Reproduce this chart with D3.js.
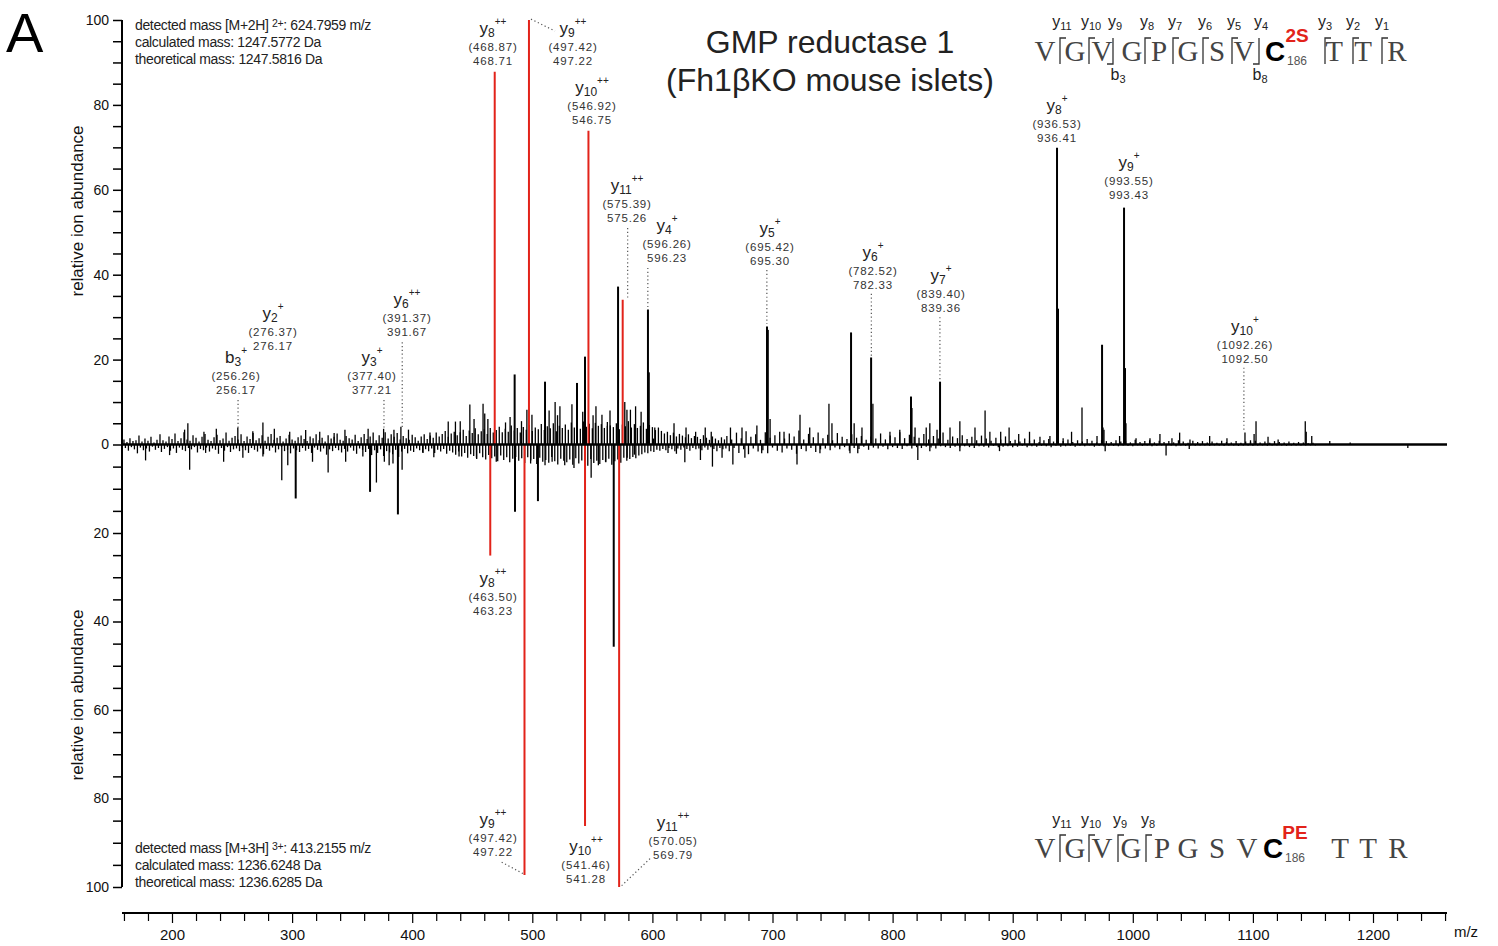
<!DOCTYPE html>
<html>
<head>
<meta charset="utf-8">
<script src="https://cdn.jsdelivr.net/npm/d3@7"></script>
<style>
  body { margin: 0; background: #fff; }
  text { font-family: "Liberation Sans", Arial, sans-serif; }
  text.seq { font-family: "Liberation Serif", "Times New Roman", serif; }
</style>
</head>
<body>
<svg id="chart" width="1498" height="946"></svg>
<script>
// ---- data ----
// labelled / prominent peaks, [m/z, relative abundance %]
var peaksTop = [
  [210.5,3.5],[213.2,5.0],[226.6,3.0],[236.9,3.7],[254.8,4.0],[267.3,3.1],[275.7,5.2],[285.2,3.7],
  [298,3.0],[311.3,3.4],[323,3.0],[335,2.7],[344,3.5],[363.3,3.7],[376.2,3.7],[384.8,3.5],
  [390.6,4.2],[396.9,3.5],[414.8,2.8],[430,5.4],[436,5.4],[440,5.5],[448,9.4],[451.5,6.0],
  [459,9.6],[460.4,7.3],[463,6.0],[477.7,5.2],[481.5,6.5],[485.3,16.5],[491,5.5],[495.5,8.2],
  [499.7,7.0],[510.6,14.8],[514,8.0],[519,10.0],[521,6.9],[523,9.0],[533,9.5],[537.2,14.5],
  [542,7.7],[543.9,20.7],[550.6,6.9],[553,9.0],[558,7.0],[562.5,4.4],[564.7,8.0],[571.4,37.2],
  [577,10.0],[578.8,8.2],[581.7,8.2],[586,9.0],[590.6,7.7],[596.3,31.8],[597,17],[601,1.4],[602,4.0],
  [618,5],[628,4],[636,3],[644,4],[649,3],[665,4],[674.6,4],[687,4.5],[695.4,27.8],[696.1,27],
  [698,6],[709.6,3],[722.9,7],[731,4],[747,9.6],[749.5,5],[765.4,26.4],[768,5],[774.5,4],
  [782.1,20.5],[783.6,9.6],[797.8,3],[806,3.5],[815.3,11.3],[816.1,8.6],[818.7,4],[828,4],[831,5],
  [837,3.5],[839.5,14.8],[847.8,4],[856,5.5],[868.6,4],[877,8],[881,3],
  [890,3],[897,4],[905,2.5],[914,3],[922.7,1.8],[931,2],[936.9,69.9],[937.7,32],[942,1.5],[949,3],
  [957.7,8.7],[970.2,2],[974.4,23.5],[975.2,4],[976,3.5],[989,2],[992.7,55.8],[993.5,18],[994.3,5],
  [1002.7,1.5],[1014.3,1.5],[1022.6,2.5],[1032.6,1.5],[1039,2.8],[1047.6,1.2],[1064,2],[1078.4,1.5],
  [1093.4,2.8],[1098,1],[1101,2.5],[1102.6,5.5],[1112.6,1.8],[1121,1.2],[1143.6,5.5],[1144.4,3],
  [1149,2],[1164,0.8],[1181,0.5]
];
var peaksBottom = [
  [178,3.6],[198,2.4],[214.7,5.7],[228,1.9],[243,3.9],[259,3.0],[275.7,2.7],[291.4,8.1],[296.4,4.7],
  [303,12.2],[317,3.9],[330,6.3],[344.6,3.9],[358.9,2.7],[364.9,10.7],[370.2,8.6],[376.8,3.9],
  [380.8,4.7],[384,4.3],[388.1,15.8],[391.6,5.7],[409,1.9],[418,2.9],[439,2.7],[453.5,3.0],[470,3.9],
  [485.6,15.2],[498.6,4.3],[504.7,12.8],[510.6,4.7],[516.5,3.9],[527,4.7],[534.7,5.3],[549,7.5],
  [555,4.7],[561,3.9],[567.8,45.7],[579,3.0],[585,2.3],[613,1.9],[620,2.1],
  [627,4],[640,3.5],[650,5],[658,3],[667,4.5],[677,3],[691,2],[720.4,4.5],[739.5,2],[764.5,2],
  [771,2],[821,3.5],[831,1.5],[856,1.5],[889,1.5],[977,1.5],[1027.7,2.5],[1047,1],[1229,0.8]
];
// matched fragment ions (red)
var matchedTop = [[468.71,87.8],[497.22,100],[546.75,73.9],[575.26,34.1]];
var matchedBottom = [[465.0,25.1],[493.5,97.3],[543.9,86.2],[572.3,100]];

// background noise, m/z 160 -> 660 every 2.5
var noiseStartA = 160, noiseStepA = 2.5;
var noiseTopA = [
  1.2,0.6,1.5,0.8,1.0,2.1,0.7,1.4,0.9,1.8, 0.5,1.1,2.4,1.0,0.7,1.9,1.3,2.6,0.8,1.5,
  2.9,1.2,0.9,2.2,1.6,0.7,1.8,2.5,1.1,0.8, 1.7,2.3,1.0,1.4,2.8,0.9,1.6,2.0,1.2,2.4,
  0.8,1.9,1.3,2.7,1.0,1.5,2.2,0.9,1.8,2.5, 1.1,1.6,2.0,0.7,1.4,2.3,1.2,0.9,1.7,2.1,
  1.3,0.8,1.9,1.5,2.4,1.0,1.6,0.7,2.2,1.4, 1.8,2.6,1.1,0.9,2.0,1.5,1.2,2.3,0.8,1.7,
  2.5,1.3,1.9,2.8,1.0,2.2,1.6,2.9,1.4,2.4, 1.8,2.7,1.2,2.0,1.5,1.1,2.3,1.7,0.9,1.9,
  2.4,1.3,2.1,1.6,2.8,1.9,2.5,3.2,1.8,2.6, 3.0,2.2,2.9,3.5,2.0,3.3,2.7,3.8,2.4,3.1,
  3.6,2.5,3.9,2.8,3.4,4.2,2.9,3.7,3.0,4.5, 3.3,3.9,2.8,4.1,3.5,4.6,3.2,4.0,3.6,4.8,
  3.4,4.3,3.8,5.0,3.1,4.4,3.9,4.7,3.5,5.2, 4.0,4.6,3.7,5.4,4.2,4.9,3.8,5.1,4.4,4.8,
  3.9,5.3,4.5,4.1,5.0,3.6,4.7,4.3,5.5,4.0, 4.8,3.9,4.4,5.2,3.7,4.6,4.1,3.4,4.0,3.2,
  2.6,3.0,2.2,2.8,1.9,2.5,2.1,1.7,2.4,1.5, 2.0,1.8,1.3,2.2,1.6,1.1,1.9,1.4,1.0,1.7,
  1.2
];
var noiseBottomA = [
  0.8,1.4,0.6,1.1,2.0,0.7,1.3,0.9,1.6,0.5, 1.2,0.8,1.7,1.0,0.6,1.4,0.9,1.9,0.7,1.2,
  1.5,0.8,1.1,0.6,1.8,1.0,1.3,0.7,1.6,0.9, 1.2,2.1,0.8,1.4,0.6,1.7,1.1,0.9,1.5,0.7,
  1.3,1.9,0.8,1.2,1.6,0.9,2.2,1.0,1.4,0.7, 1.8,1.1,0.6,1.5,1.2,2.0,0.9,1.3,1.7,0.8,
  1.4,1.0,1.9,0.7,1.2,1.6,0.9,2.3,1.1,1.5, 0.8,1.3,1.8,1.0,1.6,0.7,1.4,2.1,0.9,1.2,
  1.7,1.0,2.4,1.3,1.9,1.1,2.6,1.5,1.8,2.2, 1.2,2.8,1.6,1.0,2.0,1.4,1.7,0.9,1.3,1.8,
  1.1,1.5,0.9,1.9,1.2,1.6,1.0,2.1,1.4,1.8, 2.3,1.6,2.7,1.9,3.0,2.2,2.6,3.3,2.0,2.9,
  3.4,2.4,3.1,2.7,3.8,2.5,3.5,2.9,4.0,3.2, 2.8,3.7,3.1,4.2,2.9,3.6,3.3,4.4,3.0,3.9,
  3.5,4.1,2.8,3.8,4.5,3.2,3.7,4.0,3.4,4.6, 3.1,4.3,3.6,3.9,4.8,3.3,4.2,3.7,4.4,3.5,
  4.0,3.2,4.6,3.8,3.4,4.1,3.0,3.7,3.3,2.8, 3.1,2.5,2.2,1.8,2.0,1.5,1.7,1.2,1.4,1.0,
  1.3,0.8,1.1,1.5,0.9,1.2,0.7,1.0,1.4,0.8, 1.1,0.9,1.3,0.7,1.2,0.6,1.0,1.5,0.8,1.1,
  0.9
];
// background noise, m/z 662 -> 1150 every 4
var noiseStartB = 662, noiseStepB = 4;
var noiseTopB = [
  2.0,1.2,2.8,1.5,3.1,1.8,2.4,1.1,2.9,1.6, 2.2,3.0,1.4,2.6,1.9,3.3,1.2,2.5,1.7,2.8,
  1.5,2.3,1.0,2.7,1.8,1.3,2.4,1.6,2.0,1.1, 1.9,1.4,2.6,1.2,2.1,1.7,2.9,1.5,2.3,1.8,
  1.6,2.5,1.2,2.0,1.4,2.8,1.1,1.9,1.5,2.2, 1.3,1.8,1.0,2.1,1.4,0.9,1.6,1.2,1.9,0.8,
  1.1,0.7,1.4,0.9,1.2,0.6,1.0,1.3,0.7,1.1, 0.8,1.2,0.6,1.0,0.7,1.3,0.9,0.5,1.1,0.8,
  0.6,1.0,0.7,0.9,0.5,1.1,0.6,0.8,1.0,0.5, 0.9,0.6,0.8,0.5,1.0,0.7,0.4,0.9,0.6,0.8,
  0.5,0.7,0.4,0.9,0.6,0.5,0.8,0.4,0.7,0.6, 0.9,0.5,0.7,0.4,0.8,0.6,0.5,0.7,0.4,0.6,
  0.5,0.3,0.4
];
var noiseBottomB = [
  1.5,0.8,1.9,1.1,2.2,0.9,1.6,1.3,2.0,0.7, 1.4,1.8,0.9,1.2,2.1,1.0,1.5,0.8,1.7,1.1,
  0.9,1.3,0.7,1.1,0.6,1.4,0.8,1.0,0.5,1.2, 0.7,0.9,0.5,1.1,0.6,0.8,1.0,0.4,0.9,0.6,
  0.8,0.5,0.7,0.9,0.4,0.6,0.8,0.5,0.7,0.4, 0.6,0.8,0.4,0.5,0.7,0.3,0.6,0.5,0.4,0.6,
  0.5,0.3,0.6,0.4,0.5,0.3,0.4,0.6,0.3,0.5, 0.4,0.3,0.5,0.3,0.4,0.2,0.5,0.3,0.4,0.3,
  0.3,0.4,0.2,0.3,0.4,0.2,0.3,0.2,0.4,0.3, 0.2,0.3,0.2,0.4,0.2,0.3,0.2,0.3,0.2,0.2,
  0.3,0.2,0.2,0.3,0.2,0.2,0.3,0.2,0.2,0.3, 0.2,0.2,0.3,0.2,0.2,0.2,0.3,0.2,0.2,0.2,
  0.2,0.2,0.2
];

// ion annotations: [ion, index, charge, theoretical, observed]
var labelsTop = [
  ["b","3","+","256.26","256.17"],["y","2","+","276.37","276.17"],["y","3","+","377.40","377.21"],
  ["y","6","++","391.37","391.67"],["y","8","++","468.87","468.71"],["y","9","++","497.42","497.22"],
  ["y","10","++","546.92","546.75"],["y","11","++","575.39","575.26"],["y","4","+","596.26","596.23"],
  ["y","5","+","695.42","695.30"],["y","6","+","782.52","782.33"],["y","7","+","839.40","839.36"],
  ["y","8","+","936.53","936.41"],["y","9","+","993.55","993.43"],["y","10","+","1092.26","1092.50"]
];
// where each label sits: [m/z of centre, abundance at its lowest line]
var labelsTopAt = [
  [253.3,11.9],[284.1,22.3],[366.5,11.9],[395.7,25.6],[467.3,89.4],[533.9,89.4],[549.7,75.5],
  [578.9,52.4],[612.2,42.9],[697.9,42.4],[783.7,36.6],[840.3,31.2],[936.9,71.3],[996.8,57.8],[1093.4,19.2]
];
var labelsBottom = [
  ["y","8","++","463.50","463.23"],["y","9","++","497.42","497.22"],
  ["y","10","++","541.46","541.28"],["y","11","++","570.05","569.79"]
];
var labelsBottomAt = [[467.3,38.6],[467.3,93.1],[544.7,99.2],[617.2,93.6]];

// dotted leaders: vertical [m/z, from %, to %], slanted [m/z1, %1, m/z2, %2]
var leadersTop = [
  [255.0,10.5,3.4],[376.5,10.5,4.0],[391.7,24.1,3.9],[579.4,51.0,34.0],[596.2,41.6,32.2],
  [695.3,41.1,28.4],[782.3,35.5,20.6],[839.4,30.0,15.2],[1092.5,18.1,3.4]
];
var slantTop = [[498.9,100.2,518.9,97.4]];
var slantBottom = [[474.5,94.4,492.5,97.0],[598.0,93.6,574.4,99.7]];

var xMajor = [200,300,400,500,600,700,800,900,1000,1100,1200];
var yMajor = [0,20,40,60,80,100];

var seq = ["V","G","V","G","P","G","S","V","C","T","T","R"];
var seqYTop = ["11","10","9","8","7","6","5","4","3","2","1"];
var seqBottomY = ["11","10","9","8"];

// ---- drawing ----
var svg = d3.select("#chart");

var x = d3.scaleLinear().domain([200, 1200]).range([172, 1373]);
var yTop = d3.scaleLinear().domain([0, 100]).range([444.5, 20]);
var yBot = d3.scaleLinear().domain([0, 100]).range([444.5, 887]);
var xMin = x.invert(122), xMax = x.invert(1447);

var red = "#e2231a";

function noisePoints(start, step, vals) {
  return vals.map(function(v, i) { return [start + i * step, v]; });
}
var topAll = noisePoints(noiseStartA, noiseStepA, noiseTopA)
  .concat(noisePoints(noiseStartB, noiseStepB, noiseTopB), peaksTop);
var botAll = noisePoints(noiseStartA + 1.2, noiseStepA, noiseBottomA)
  .concat(noisePoints(noiseStartB + 2, noiseStepB, noiseBottomB), peaksBottom);

var spec = svg.append("g");
spec.selectAll("line.top").data(topAll).enter().append("line")
  .attr("x1", function(d) { return x(d[0]); }).attr("x2", function(d) { return x(d[0]); })
  .attr("y1", yTop(0)).attr("y2", function(d) { return yTop(d[1]); })
  .attr("stroke", "#000").attr("stroke-width", function(d) { return d[1] > 10 ? 2 : 1.3; });
spec.selectAll("line.bot").data(botAll).enter().append("line")
  .attr("x1", function(d) { return x(d[0]); }).attr("x2", function(d) { return x(d[0]); })
  .attr("y1", yBot(0)).attr("y2", function(d) { return yBot(d[1]); })
  .attr("stroke", "#000").attr("stroke-width", function(d) { return d[1] > 10 ? 2 : 1.3; });

spec.selectAll("line.rt").data(matchedTop).enter().append("line")
  .attr("x1", function(d) { return x(d[0]); }).attr("x2", function(d) { return x(d[0]); })
  .attr("y1", yTop(0)).attr("y2", function(d) { return yTop(d[1]); })
  .attr("stroke", red).attr("stroke-width", 2);
spec.selectAll("line.rb").data(matchedBottom).enter().append("line")
  .attr("x1", function(d) { return x(d[0]); }).attr("x2", function(d) { return x(d[0]); })
  .attr("y1", yBot(0)).attr("y2", function(d) { return yBot(d[1]); })
  .attr("stroke", red).attr("stroke-width", 2);

// baseline
svg.append("line").attr("x1", x(xMin)).attr("x2", x(xMax))
  .attr("y1", yTop(0)).attr("y2", yTop(0)).attr("stroke", "#000").attr("stroke-width", 2.4);

// leaders
var dots = svg.append("g").attr("stroke", "#555").attr("stroke-width", 1.2).attr("stroke-dasharray", "1.2,2.6");
dots.selectAll("line.v").data(leadersTop).enter().append("line")
  .attr("x1", function(d) { return x(d[0]); }).attr("x2", function(d) { return x(d[0]); })
  .attr("y1", function(d) { return yTop(d[1]); }).attr("y2", function(d) { return yTop(d[2]); });
dots.selectAll("line.st").data(slantTop).enter().append("line")
  .attr("x1", function(d) { return x(d[0]); }).attr("y1", function(d) { return yTop(d[1]); })
  .attr("x2", function(d) { return x(d[2]); }).attr("y2", function(d) { return yTop(d[3]); });
dots.selectAll("line.sb").data(slantBottom).enter().append("line")
  .attr("x1", function(d) { return x(d[0]); }).attr("y1", function(d) { return yBot(d[1]); })
  .attr("x2", function(d) { return x(d[2]); }).attr("y2", function(d) { return yBot(d[3]); });

// ion labels
function ionLabel(g, lab, px, py) {
  var t = g.append("text").attr("x", px).attr("y", py - 31).attr("text-anchor", "middle")
    .attr("font-size", 17).attr("fill", "#222");
  t.append("tspan").text(lab[0]);
  t.append("tspan").attr("font-size", 12).attr("dy", 3).text(lab[1]);
  t.append("tspan").attr("font-size", 10).attr("dy", -12).text(lab[2]);
  g.append("text").attr("x", px).attr("y", py - 14).attr("text-anchor", "middle")
    .attr("font-size", 11.5).attr("letter-spacing", 0.8).attr("fill", "#333").text("(" + lab[3] + ")");
  g.append("text").attr("x", px).attr("y", py).attr("text-anchor", "middle")
    .attr("font-size", 11.5).attr("letter-spacing", 0.8).attr("fill", "#333").text(lab[4]);
}
var labG = svg.append("g");
labelsTop.forEach(function(l, i) { ionLabel(labG, l, x(labelsTopAt[i][0]), yTop(labelsTopAt[i][1])); });
labelsBottom.forEach(function(l, i) { ionLabel(labG, l, x(labelsBottomAt[i][0]), yBot(labelsBottomAt[i][1])); });

// x axis
var axY = 913;
svg.append("line").attr("x1", 122).attr("x2", 1447).attr("y1", axY).attr("y2", axY)
  .attr("stroke", "#000").attr("stroke-width", 2);
var minorTicks = d3.range(160, 1261, 20).filter(function(v) { return v % 100 !== 0; });
var xa = svg.append("g").attr("transform", "translate(0," + axY + ")");
xa.call(d3.axisBottom(x).tickValues(minorTicks).tickSize(8).tickFormat(""));
var xb = svg.append("g").attr("transform", "translate(0," + axY + ")");
xb.call(d3.axisBottom(x).tickValues(xMajor).tickSize(10).tickPadding(6).tickFormat(d3.format("d")));
[xa, xb].forEach(function(g) {
  g.select(".domain").remove();
  g.selectAll(".tick line").attr("stroke-width", 1.2);
  g.selectAll("text").attr("font-size", 15).attr("fill", "#111");
});
svg.append("text").attr("x", 1466).attr("y", 937).attr("text-anchor", "middle")
  .attr("font-size", 15).attr("fill", "#111").text("m/z");

// y axes
svg.append("line").attr("x1", 122).attr("x2", 122).attr("y1", yTop(100)).attr("y2", yBot(100))
  .attr("stroke", "#000").attr("stroke-width", 2);
var fmt = function(d) { return yMajor.indexOf(d) >= 0 ? d : ""; };
var ya = svg.append("g").attr("transform", "translate(122,0)")
  .call(d3.axisLeft(yTop).tickValues(d3.range(0, 101, 5)).tickSize(9).tickPadding(4).tickFormat(fmt));
var yb = svg.append("g").attr("transform", "translate(122,0)")
  .call(d3.axisLeft(yBot).tickValues(d3.range(5, 101, 5)).tickSize(9).tickPadding(4).tickFormat(fmt));
[ya, yb].forEach(function(g) {
  g.select(".domain").remove();
  g.selectAll(".tick line").attr("stroke-width", 1.5);
  g.selectAll("text").attr("font-size", 14).attr("fill", "#111");
});
svg.append("text").attr("transform", "translate(83,211) rotate(-90)").attr("text-anchor", "middle")
  .attr("font-size", 17).attr("fill", "#111").text("relative ion abundance");
svg.append("text").attr("transform", "translate(83,695) rotate(-90)").attr("text-anchor", "middle")
  .attr("font-size", 17).attr("fill", "#111").text("relative ion abundance");

// panel letter and title
svg.append("text").attr("x", 6).attr("y", 52).attr("font-size", 56).attr("fill", "#000").text("A");
svg.append("text").attr("x", 830).attr("y", 53).attr("text-anchor", "middle").attr("font-size", 32)
  .attr("fill", "#222").text("GMP reductase 1");
svg.append("text").attr("x", 830).attr("y", 91).attr("text-anchor", "middle").attr("font-size", 32)
  .attr("fill", "#222").text("(Fh1\u03b2KO mouse islets)");

// precursor info
function infoBlock(y0, ion, charge, mz, calc, theo) {
  var g = svg.append("g").attr("font-size", 14).attr("fill", "#222").attr("letter-spacing", -0.35);
  var t = g.append("text").attr("x", 135).attr("y", y0);
  t.append("tspan").text("detected mass [" + ion + "] ");
  t.append("tspan").attr("font-size", 10.5).attr("dy", -3).text(charge);
  t.append("tspan").attr("dy", 3).text(": " + mz + " m/z");
  g.append("text").attr("x", 135).attr("y", y0 + 17).text("calculated mass: " + calc + " Da");
  g.append("text").attr("x", 135).attr("y", y0 + 34).text("theoretical mass: " + theo + " Da");
}
infoBlock(30, "M+2H", "2+", "624.7959", "1247.5772", "1247.5816");
infoBlock(853, "M+3H", "3+", "413.2155", "1236.6248", "1236.6285");

// peptide sequences
var seqXTop = [1045,1075,1102,1132,1159,1188,1217,1244,1275,1334,1363,1397];
var seqXBot = [1045,1075,1102,1131,1162,1188,1217,1247,1273,1340,1368,1398];
function drawSeq(xs, base, mod) {
  var g = svg.append("g");
  seq.forEach(function(aa, i) {
    if (aa === "C") {
      g.append("text").attr("x", xs[i]).attr("y", base).attr("text-anchor", "middle")
        .attr("font-size", 28).attr("font-weight", "bold").attr("fill", "#000").text(aa);
    } else {
      g.append("text").attr("class", "seq").attr("x", xs[i]).attr("y", base).attr("text-anchor", "middle")
        .attr("font-size", 29).attr("fill", "#444").text(aa);
    }
  });
  g.append("text").attr("x", xs[8] + 22).attr("y", base - 19).attr("text-anchor", "middle")
    .attr("font-size", 19).attr("font-weight", "bold").attr("fill", red).text(mod);
  g.append("text").attr("x", xs[8] + 22).attr("y", base + 4).attr("text-anchor", "middle")
    .attr("font-size", 12).attr("fill", "#555").text("186");
  return g;
}
function fragTag(g, px, py, ion, n) {
  var t = g.append("text").attr("x", px).attr("y", py).attr("text-anchor", "middle").attr("font-size", 16).attr("fill", "#222");
  t.append("tspan").text(ion);
  t.append("tspan").attr("font-size", 11).attr("dy", 3).text(n);
}
var gTop = drawSeq(seqXTop, 61, "2S");
var markXTop = [1060,1089,1113,1145,1173,1203,1232,1259,1325,1353,1382];
var markKind = ["y","y","b","y","y","y","y","b","y","y","y"];
markXTop.forEach(function(mx, i) {
  var p = markKind[i] === "y"
    ? "M" + (mx + 6) + ",38 H" + mx + " V64"
    : "M" + mx + ",38 V64 H" + (mx - 6);
  gTop.append("path").attr("d", p).attr("fill", "none").attr("stroke", "#333").attr("stroke-width", 1.3);
  fragTag(gTop, mx + (i < 8 ? 2 : 0), 27, "y", seqYTop[i]);
});
fragTag(gTop, 1118, 80, "b", "3");
fragTag(gTop, 1260, 80, "b", "8");

var gBot = drawSeq(seqXBot, 858, "PE");
[1060,1089,1118,1146].forEach(function(mx, i) {
  gBot.append("path").attr("d", "M" + (mx + 6) + ",835 H" + mx + " V862")
    .attr("fill", "none").attr("stroke", "#333").attr("stroke-width", 1.3);
  fragTag(gBot, mx + 2, 825, "y", seqBottomY[i]);
});
</script>
</body>
</html>
